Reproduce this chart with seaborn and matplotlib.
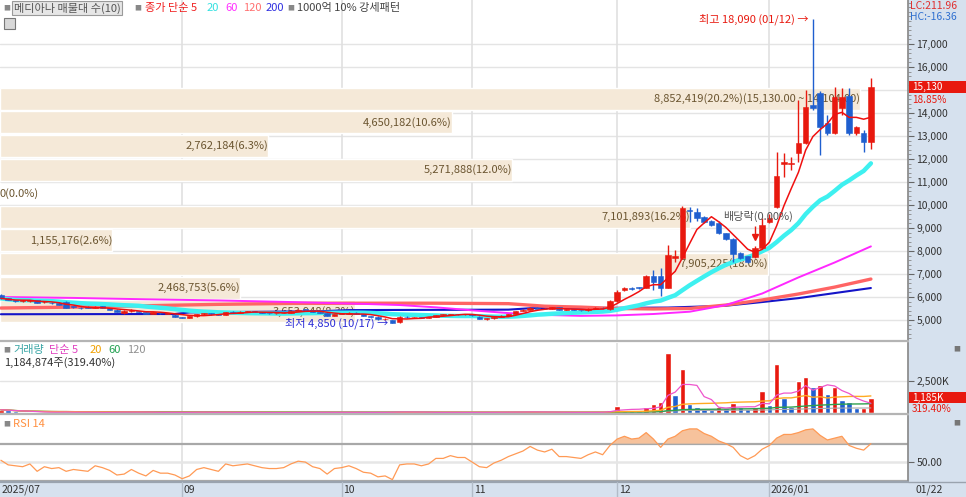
import numpy as np
import pandas as pd
import matplotlib
matplotlib.use("Agg")
import matplotlib.pyplot as plt
import matplotlib.transforms as mtransforms
from matplotlib.patches import Rectangle
from matplotlib.lines import Line2D
from matplotlib.ticker import FuncFormatter, AutoMinorLocator
import seaborn as sns

# ---------------- data ----------------
opens = [6090, 5940, 5870, 5820, 5830, 5870, 5770, 5760, 5760, 5800,
         5580, 5540, 5580, 5530, 5600, 5500, 5450, 5300, 5380, 5400,
         5340, 5280, 5320, 5280, 5230, 5140, 5100, 5160, 5250, 5290,
         5250, 5230, 5360, 5320, 5350, 5380, 5340, 5310, 5290, 5290,
         5310, 5390, 5450, 5430, 5340, 5300, 5170, 5260, 5280, 5320,
         5260, 5170, 5150, 5030, 5000, 4900, 5140, 5120, 5130, 5100,
         5140, 5220, 5230, 5270, 5250, 5260, 5150, 5060, 5070, 5140,
         5190, 5250, 5380, 5450, 5540, 5490, 5470, 5560, 5440, 5450,
         5430, 5420, 5490, 5540, 5480, 5830, 6300, 6400, 6420, 6390,
         6910, 6910, 6390, 7700, 7700, 9800, 9700, 9480, 9300, 9220,
         8780, 8520, 7910, 7780, 7740, 8130, 9260, 9910, 11800, 11780,
         12260, 12700, 14350, 14870, 13570, 13130, 14200, 14740, 13130, 13130,
         12730]
highs = [6120, 5960, 5890, 5870, 5860, 5880, 5820, 5770, 5780, 5810,
         5600, 5550, 5600, 5600, 5610, 5510, 5460, 5450, 5460, 5410,
         5350, 5350, 5330, 5310, 5240, 5150, 5180, 5260, 5310, 5300,
         5260, 5360, 5370, 5370, 5400, 5390, 5350, 5320, 5310, 5330,
         5400, 5460, 5460, 5440, 5350, 5310, 5280, 5300, 5340, 5330,
         5270, 5180, 5160, 5080, 5010, 5160, 5160, 5150, 5140, 5150,
         5230, 5250, 5280, 5280, 5270, 5270, 5160, 5100, 5150, 5200,
         5260, 5400, 5460, 5560, 5550, 5520, 5580, 5570, 5470, 5460,
         5440, 5500, 5560, 5550, 5870, 6300, 6450, 6450, 6450, 6950,
         7170, 7260, 8260, 8040, 9950, 9910, 9870, 9500, 9350, 9300,
         8800, 8550, 7950, 7800, 8200, 9430, 9600, 12320, 12260, 12090,
         14570, 15000, 18090, 14950, 13900, 15130, 15100, 15100, 13450, 13250,
         15500]
lows = [5920, 5850, 5800, 5800, 5800, 5720, 5760, 5700, 5650, 5500,
        5540, 5480, 5500, 5520, 5500, 5440, 5340, 5260, 5360, 5330,
        5250, 5260, 5270, 5270, 5130, 5080, 5080, 5150, 5230, 5230,
        5200, 5220, 5310, 5310, 5340, 5330, 5300, 5280, 5280, 5285,
        5300, 5380, 5420, 5330, 5290, 5160, 5160, 5240, 5270, 5250,
        5160, 5130, 5020, 5010, 4850, 4890, 5100, 5100, 5090, 5090,
        5130, 5200, 5220, 5230, 5230, 5180, 5040, 4990, 5060, 5130,
        5180, 5240, 5370, 5440, 5470, 5460, 5460, 5430, 5420, 5420,
        5410, 5410, 5480, 5480, 5450, 5800, 6250, 6300, 6330, 6380,
        6300, 6040, 6380, 7520, 7650, 9260, 9300, 9200, 9080, 8750,
        8480, 7520, 7650, 7480, 7700, 8100, 9200, 9850, 11220, 11520,
        11870, 12650, 14150, 12170, 13050, 13100, 13900, 13050, 13050, 12300,
        12440]
closes = [5940, 5860, 5810, 5840, 5845, 5730, 5800, 5720, 5660, 5510,
          5560, 5500, 5510, 5580, 5510, 5450, 5350, 5380, 5440, 5350,
          5270, 5330, 5290, 5295, 5150, 5100, 5160, 5250, 5290, 5250,
          5220, 5350, 5320, 5350, 5380, 5340, 5310, 5290, 5295, 5310,
          5390, 5450, 5430, 5340, 5300, 5170, 5260, 5280, 5320, 5260,
          5170, 5150, 5030, 5050, 4880, 5140, 5120, 5130, 5100, 5140,
          5220, 5230, 5270, 5250, 5260, 5200, 5060, 5070, 5140, 5190,
          5250, 5380, 5450, 5540, 5490, 5470, 5560, 5440, 5450, 5430,
          5420, 5490, 5540, 5500, 5830, 6220, 6390, 6340, 6380, 6910,
          6650, 6390, 7830, 7780, 9870, 9760, 9430, 9260, 9130, 8780,
          8520, 7870, 7700, 7520, 8130, 9130, 9430, 11260, 11870, 11830,
          12700, 14260, 14220, 13390, 13130, 14700, 14700, 13130, 13390, 12730,
          15130]
volumes_m = [0.25, 0.20, 0.12, 0.08, 0.06, 0.09, 0.05, 0.06, 0.07, 0.10,
             0.05, 0.04, 0.06, 0.05, 0.07, 0.06, 0.08, 0.09, 0.05, 0.06,
             0.07, 0.05, 0.04, 0.04, 0.07, 0.06, 0.05, 0.08, 0.06, 0.05,
             0.04, 0.07, 0.05, 0.04, 0.05, 0.04, 0.04, 0.03, 0.03, 0.04,
             0.06, 0.07, 0.04, 0.05, 0.04, 0.07, 0.06, 0.05, 0.05, 0.04,
             0.06, 0.04, 0.07, 0.05, 0.09, 0.12, 0.06, 0.05, 0.04, 0.05,
             0.07, 0.05, 0.06, 0.04, 0.04, 0.05, 0.08, 0.06, 0.05, 0.06,
             0.07, 0.10, 0.08, 0.09, 0.06, 0.05, 0.07, 0.06, 0.05, 0.04,
             0.04, 0.06, 0.08, 0.07, 0.24, 0.58, 0.26, 0.26, 0.13, 0.45,
             0.71, 0.87, 4.72, 1.39, 3.46, 0.71, 0.50, 0.34, 0.24, 0.47,
             0.39, 0.79, 0.45, 0.34, 0.45, 1.71, 0.66, 3.81, 1.15, 0.45,
             2.49, 2.81, 2.02, 2.18, 1.50, 2.05, 1.02, 0.87, 0.36, 0.37097,
             1.184874]
rsi14 = [52, 47, 46, 45, 48, 40, 45, 43, 44, 40,
         42, 41, 40, 46, 44, 41, 36, 37, 42, 38,
         35, 41, 38, 38, 36, 32, 35, 42, 44, 42,
         40, 48, 46, 47, 48, 46, 44, 43, 43, 44,
         48, 51, 50, 45, 43, 37, 43, 44, 46, 43,
         39, 38, 34, 35, 31, 47, 48, 48, 46, 48,
         54, 54, 57, 55, 55, 50, 45, 44, 49, 52,
         56, 59, 62, 67, 63, 61, 64, 56, 56, 55,
         54, 58, 61, 58, 68, 75, 78, 75, 76, 82,
         75, 66, 75, 78, 84, 86, 86, 81, 78, 73,
         70, 66, 57, 53, 57, 64, 68, 76, 80, 80,
         82, 85, 86, 79, 74, 76, 78, 68, 65, 63,
         70]
# long moving averages at sample candles
ma60_at = [0, 10, 20, 30, 40, 50, 55, 60, 65, 70, 75, 80, 85, 90, 95, 100, 105, 110, 115, 120]
ma60_val = [6000, 5960, 5900, 5850, 5780, 5700, 5650, 5550, 5420, 5300, 5220, 5180, 5200, 5260, 5360,
            5650, 6150, 6850, 7500, 8200]
ma120_at = [0, 10, 20, 30, 40, 50, 60, 70, 75, 80, 85, 90, 95, 100, 105, 110, 115, 120]
ma120_val = [5520, 5560, 5620, 5680, 5720, 5730, 5730, 5710, 5600, 5560, 5500, 5480, 5500, 5650,
             5870, 6130, 6430, 6780]
ma200_at = [0, 24, 26, 44, 48, 70, 73, 92, 100, 105, 110, 115, 120]
ma200_val = [5250, 5260, 5330, 5380, 5430, 5450, 5510, 5540, 5620, 5780, 5950, 6170, 6390]

# volume profile (매물대), bottom band to top band
band_volumes = [3653948, 2468753, 7905225, 1155176, 7101893, 0, 5271888, 2762184, 4650182, 8852419]
band_top = 15130.0
band_bottom = 4870.0

price_ticks = list(range(5000, 18000, 1000))
month_labels = ["2025/07", "09", "10", "11", "12", "2026/01"]
month_index = [0, 25, 47, 65, 85, 106]
end_label = "01/22"
high_idx, high_val, high_txt = 112, 18090, "최고 18,090 (01/12) →"
low_idx, low_val, low_txt = 54, 4850, "최저 4,850 (10/17) →"
exdiv_idx, exdiv_txt = 104, "배당락(0.00%)"
lc_txt, hc_txt = "LC:211.96", "HC:-16.36"

# ---------------- style ----------------
sns.set_theme(style="white")
plt.rcParams['font.family'] = ['Noto Sans CJK KR', 'DejaVu Sans']
plt.rcParams['axes.unicode_minus'] = False

UP, DOWN = '#e8190f', '#1f5fcf'
STRIP = '#d6e1ee'
BAND = '#f5e9d8'
BANDTXT = '#6b5530'
W, H = 966, 497
PR = 908  # right edge of plotting area in px


def fx(px):
    return px / W


def fy(py):
    return 1 - py / H


fig = plt.figure(figsize=(W / 100, H / 100), dpi=100)
fig.patch.set_facecolor('white')

# side strip / date strip
fig.add_artist(Rectangle((fx(PR), 0), 1 - fx(PR), 1, transform=fig.transFigure,
                         facecolor=STRIP, edgecolor='none', zorder=-5))
fig.add_artist(Rectangle((0, 0), 1, fy(481), transform=fig.transFigure,
                         facecolor=STRIP, edgecolor='none', zorder=-5))

n = len(closes)
idx = np.arange(n)
o = np.array(opens, float); c = np.array(closes, float)
hi = np.array(highs, float); lo = np.array(lows, float)
vol = np.array(volumes_m, float)
XL = (-0.124, -0.124 + PR / 7.25)
YL = (4130, 18913)

# ---------------- main panel ----------------
rect_main = [0, fy(340), fx(PR), 340 / H]
ax_band = fig.add_axes(rect_main)
ax = fig.add_axes(rect_main)
ax.patch.set_visible(False)

ax_band.set_ylim(*YL)
ax_band.set_xlim(0, PR / 97.2 * 1e6)
for s in ax_band.spines.values():
    s.set_visible(False)
ax_band.set_xticks([]); ax_band.set_yticks([])
ax_band.set_facecolor('white')

# grid
for p in price_ticks:
    ax_band.axhline(p, color='#e4e4e4', lw=1, zorder=0)
vtrans = mtransforms.blended_transform_factory(ax.transData, ax_band.transAxes)
for m in month_index[1:]:
    ax_band.plot([m, m], [0, 1], transform=vtrans, color='#e0e0e0', lw=1.2, zorder=0)

# volume profile bands
nb = len(band_volumes)
step = (band_top - band_bottom) / nb
total = sum(band_volumes)
centers = [band_bottom + step * (k + 0.5) for k in range(nb)]
ax_band.barh(centers, band_volumes, height=step * 0.93, left=0, color=BAND, zorder=1)
for k, (cy, v) in enumerate(zip(centers, band_volumes)):
    txt = f"{v:,}({v / total * 100:.1f}%)"
    lo_b, hi_b = cy - step / 2, cy + step / 2
    if lo_b <= closes[-1] <= hi_b + 1:
        txt += f"({hi_b:,.2f} ~ {lo_b:,.2f})"
    if v == 0:
        ax_band.text(0, cy, txt, ha='left', va='center', fontsize=8, color=BANDTXT, zorder=2)
    else:
        ax_band.text(v, cy, txt, ha='right', va='center', fontsize=8, color=BANDTXT, zorder=2)

ax.set_xlim(*XL)
ax.set_ylim(*YL)

# moving averages (long ones read, short ones from closes)
ma5 = pd.Series(c).rolling(5, min_periods=1).mean().values
ma20 = pd.Series(c).rolling(20, min_periods=1).mean().values
sns.lineplot(x=ma200_at, y=ma200_val, ax=ax, color='#1414c8', lw=1.5, zorder=2)
sns.lineplot(x=ma120_at, y=ma120_val, ax=ax, color='#ff6464', lw=2.4, zorder=2)
sns.lineplot(x=ma60_at, y=ma60_val, ax=ax, color='#ff28ff', lw=1.4, zorder=2)
sns.lineplot(x=idx, y=ma20, ax=ax, color='#3ef0f0', lw=3.2, zorder=3)

# candles
up = c >= o
colors = np.where(up, UP, DOWN)
body_lo = np.minimum(o, c)
body_h = np.maximum(np.abs(c - o), 28)
ax.vlines(idx, lo, hi, colors=colors, lw=1.0, zorder=4)
ax.bar(idx, body_h, bottom=body_lo, width=0.74, color=colors, edgecolor=colors, lw=0.4, zorder=5)
sns.lineplot(x=idx, y=ma5, ax=ax, color='#f01010', lw=1.1, zorder=6)

# annotations
ax.text(high_idx - 0.6, high_val, high_txt, ha='right', va='center', fontsize=8, color='#e8190f', zorder=7)
ax.text(low_idx - 0.6, low_val, low_txt, ha='right', va='center', fontsize=8, color='#2a2ad6', zorder=7)
ax.text(exdiv_idx + 0.5, 9520, exdiv_txt, ha='center', va='center', fontsize=8, color='#555555', zorder=7)
ax.plot([exdiv_idx], [hi[exdiv_idx] + 420], marker='v', color='#e8190f', ms=5, zorder=7)
ax.vlines([exdiv_idx], hi[exdiv_idx] + 420, hi[exdiv_idx] + 900, colors='#e8190f', lw=1, zorder=7)

# axis (the tick label hidden under the current-price tag is left blank, as in the reference)
for name, s in ax.spines.items():
    s.set_visible(name == 'right')
ax.spines['right'].set_color('#8a8a8a')
ax.set_xticks([])
ax.yaxis.tick_right()
ax.set_yticks(price_ticks)
ax.yaxis.set_major_formatter(FuncFormatter(
    lambda v, p: '' if abs(v - closes[-1]) < 600 else f"{int(v):,}"))
ax.yaxis.set_minor_locator(AutoMinorLocator(5))
ax.tick_params(axis='y', which='major', direction='out', length=4, width=0.8, color='#666666',
               labelsize=7.5, labelcolor='#333333', pad=2)
ax.tick_params(axis='y', which='minor', direction='out', length=2, width=0.6, color='#888888')
ax.set_ylabel('')

# legend row
ty = fy(8)
fig.text(fx(3), ty, '■', fontsize=5, color='#888888', va='center')
fig.text(fx(14), ty, '메디아나 매물대 수(10)', fontsize=8, color='#555555', va='center',
         bbox=dict(facecolor='#e6e6e6', edgecolor='#9a9a9a', pad=1.2, lw=0.8))
fig.text(fx(134), ty, '■', fontsize=5, color='#888888', va='center')
fig.text(fx(145), ty, '종가 단순 5', fontsize=8, color='#f02020', va='center')
fig.text(fx(207), ty, '20', fontsize=8, color='#33e0e0', va='center')
fig.text(fx(225), ty, '60', fontsize=8, color='#ff30ff', va='center')
fig.text(fx(243), ty, '120', fontsize=8, color='#ff7070', va='center')
fig.text(fx(266), ty, '200', fontsize=8, color='#3030e0', va='center')
fig.text(fx(287), ty, '■', fontsize=5, color='#888888', va='center')
fig.text(fx(297), ty, '1000억 10% 강세패턴', fontsize=8, color='#444444', va='center')
fig.add_artist(Rectangle((fx(4), fy(29)), fx(11), 11 / H, transform=fig.transFigure,
                         facecolor='#d8d8d8', edgecolor='#777777', lw=0.8))

# right strip texts
fig.text(fx(910), fy(6), lc_txt, fontsize=7.5, color='#e03030', va='center')
fig.text(fx(910), fy(17), hc_txt, fontsize=7.5, color='#3070d0', va='center')
btr = mtransforms.blended_transform_factory(fig.transFigure, ax.transData)
last_pct = (closes[-1] / closes[-2] - 1) * 100
fig.add_artist(Rectangle((fx(909), closes[-1] - 250), fx(57), 500, transform=btr,
                         facecolor='#e8190f', edgecolor='none', zorder=8))
fig.text(fx(912), closes[-1], f"{closes[-1]:,}", transform=btr, fontsize=7.2, color='white',
         va='center', zorder=9)
fig.text(fx(912), closes[-1] - 560, f"{last_pct:.2f}%", transform=btr, fontsize=7.2,
         color='#e8190f', va='center', zorder=9)

# ---------------- volume panel ----------------
ax_v = fig.add_axes([0, fy(413), fx(PR), 70 / H])
ax_v.set_xlim(*XL)
ax_v.set_ylim(0, 5.47)
ax_v.axhline(2.5, color='#e4e4e4', lw=1, zorder=0)
for m in month_index[1:]:
    ax_v.axvline(m, color='#e0e0e0', lw=1.2, zorder=0)
vol_up = np.r_[True, vol[1:] > vol[:-1]]
ax_v.bar(idx, vol, width=0.75, color=np.where(vol_up, UP, DOWN), zorder=2)
vs = pd.Series(vol)
sns.lineplot(x=idx, y=vs.rolling(120, min_periods=1).mean().values, ax=ax_v, color='#a8a8a8', lw=0.8, zorder=3)
sns.lineplot(x=idx, y=vs.rolling(60, min_periods=1).mean().values, ax=ax_v, color='#2ea04e', lw=1.0, zorder=3)
sns.lineplot(x=idx, y=vs.rolling(20, min_periods=1).mean().values, ax=ax_v, color='#ffaa22', lw=1.0, zorder=3)
sns.lineplot(x=idx, y=vs.rolling(5, min_periods=1).mean().values, ax=ax_v, color='#ee55cc', lw=0.9, zorder=3)
for name, s in ax_v.spines.items():
    s.set_visible(name == 'right')
ax_v.spines['right'].set_color('#8a8a8a')
ax_v.set_xticks([])
ax_v.yaxis.tick_right()
ax_v.set_yticks([2.5])
ax_v.yaxis.set_major_formatter(FuncFormatter(lambda v, p: f"{int(v * 1000):,}K"))
ax_v.yaxis.set_minor_locator(AutoMinorLocator(5))
ax_v.tick_params(axis='y', which='major', direction='out', length=4, width=0.8, color='#666666',
                 labelsize=7.5, labelcolor='#333333', pad=2)
ax_v.tick_params(axis='y', which='minor', direction='out', length=2, width=0.6, color='#888888')
ax_v.set_ylabel('')
vy = fy(350)
fig.text(fx(3), vy, '■', fontsize=5, color='#888888', va='center')
fig.text(fx(13), vy, '거래량', fontsize=8, color='#3aa6a6', va='center')
fig.text(fx(49), vy, '단순 5', fontsize=8, color='#e040c0', va='center')
fig.text(fx(90), vy, '20', fontsize=8, color='#f0a000', va='center')
fig.text(fx(108), vy, '60', fontsize=8, color='#20a050', va='center')
fig.text(fx(127), vy, '120', fontsize=8, color='#909090', va='center')
vol_pct = vol[-1] / vol[-2] * 100
fig.text(fx(4), fy(363), f"{int(round(vol[-1] * 1e6)):,}주({vol_pct:.2f}%)", fontsize=8,
         color='#333333', va='center')
bvr = mtransforms.blended_transform_factory(fig.transFigure, ax_v.transData)
fig.add_artist(Rectangle((fx(909), vol[-1] - 0.44), fx(57), 0.88, transform=bvr,
                         facecolor='#e8190f', edgecolor='none', zorder=8))
fig.text(fx(912), vol[-1], f"{int(round(vol[-1] * 1000)):,}K", transform=bvr, fontsize=7.2,
         color='white', va='center', zorder=9)
fig.text(fx(912), vol[-1] - 0.85, f"{vol_pct:.2f}%", transform=bvr, fontsize=7.2,
         color='#e8190f', va='center', zorder=9)

# ---------------- RSI panel ----------------
ax_r = fig.add_axes([0, fy(481), fx(PR), 65 / H])
ax_r.set_xlim(*XL)
ax_r.set_ylim(29.5, 100)
for m in month_index[1:]:
    ax_r.axvline(m, color='#e0e0e0', lw=1.2, zorder=0)
ax_r.axhline(50, color='#e6e6e6', lw=1.8, zorder=0)
ax_r.axhline(70, color='#a8a8a8', lw=1.6, zorder=1)
ax_r.axhline(30, color='#a8a8a8', lw=1.6, zorder=1)
r = np.array(rsi14, float)
ax_r.fill_between(idx, 70, r, where=r > 70, interpolate=True, color='#f6c29c', lw=0, zorder=2)
sns.lineplot(x=idx, y=r, ax=ax_r, color='#ff9a55', lw=0.9, zorder=3)
for name, s in ax_r.spines.items():
    s.set_visible(name == 'right')
ax_r.spines['right'].set_color('#8a8a8a')
ax_r.set_xticks([])
ax_r.yaxis.tick_right()
ax_r.set_yticks([50])
ax_r.yaxis.set_major_formatter(FuncFormatter(lambda v, p: f"{v:.2f}"))
ax_r.yaxis.set_minor_locator(AutoMinorLocator(5))
ax_r.tick_params(axis='y', which='major', direction='out', length=4, width=0.8, color='#666666',
                 labelsize=7.5, labelcolor='#333333', pad=2)
ax_r.tick_params(axis='y', which='minor', direction='out', length=2, width=0.6, color='#888888')
ax_r.set_ylabel('')
fig.text(fx(3), fy(424), '■', fontsize=5, color='#888888', va='center')
fig.text(fx(13), fy(424), 'RSI 14', fontsize=8, color='#ff9040', va='center')

# small panel icons in the strip
for py in (349, 423):
    fig.text(fx(953), fy(py), '■', fontsize=5, color='#777777', va='center')

# separators
for py, col in ((341, '#b4b4b4'), (414, '#b4b4b4'), (481.5, '#9aa3ae')):
    fig.add_artist(Line2D([0, fx(PR)], [fy(py), fy(py)], transform=fig.transFigure, color=col, lw=1.6))
fig.add_artist(Line2D([fx(PR), 1], [fy(481.5), fy(481.5)], transform=fig.transFigure, color='#9aa3ae', lw=1))

# date axis labels
xtr = mtransforms.blended_transform_factory(ax.transData, fig.transFigure)
for lab, m in zip(month_labels, month_index):
    xpos = m + 0.2 if m > 0 else XL[0] + 0.2
    fig.text(xpos, fy(490), lab, transform=xtr, fontsize=7.5, color='#333333', va='center', ha='left')
    if m > 0:
        fig.add_artist(Line2D([m, m], [0, fy(482)], transform=xtr, color='#b2bcc8', lw=1))
fig.text(fx(916), fy(490), end_label, fontsize=7.5, color='#333333', va='center')

fig.savefig('out.png', dpi=100)
